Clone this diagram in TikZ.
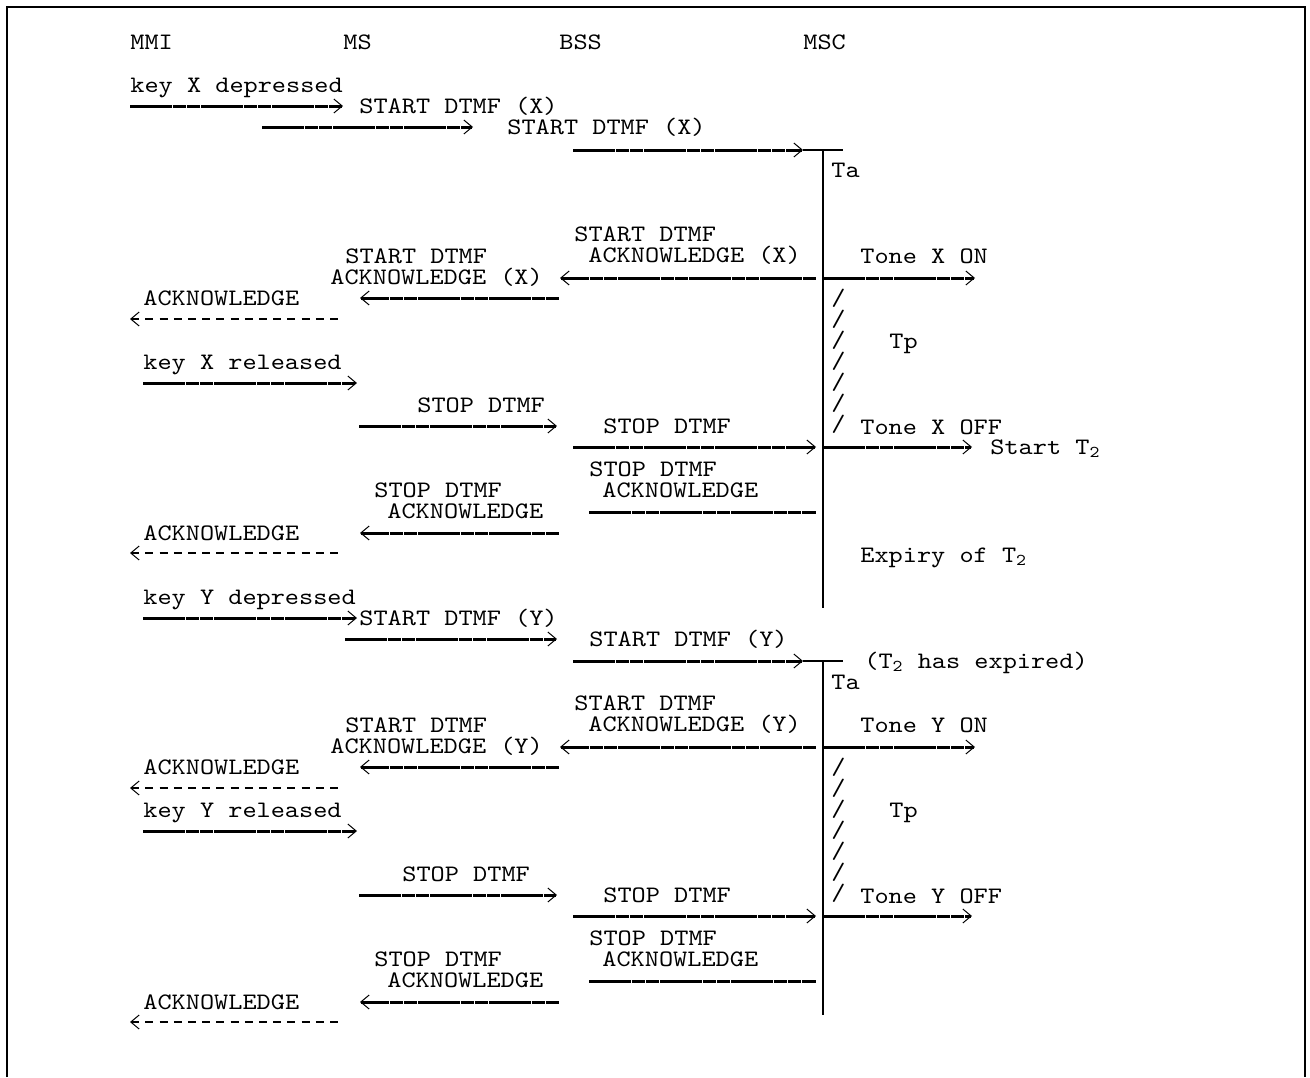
\documentclass[tikz,border=0pt]{standalone}
\usepackage{fontspec}
\newfontfamily\dtmffont{lmmono10-regular.otf}[FakeStretch=1.143]
\usepackage{tikz}
\usetikzlibrary{arrows.meta}
\tikzset{
  msgtxt/.style={font=\dtmffont\fontsize{11.8}{14}\selectfont, inner sep=0pt, anchor=base west},
  msgarr/.style={line width=1.5pt, dash pattern=on 6.75pt off 0.35pt, -{Straight Barb[length=4.2pt,width=7pt,line width=0.5pt]}},
  ackarr/.style={line width=1.5pt, dash pattern=on 6.75pt off 0.35pt, {Straight Barb[length=4.2pt,width=7pt,line width=0.5pt]}-},
  ackline/.style={line width=1.5pt, dash pattern=on 6.75pt off 0.35pt},
  mmiarr/.style={line width=0.6pt, dash pattern=on 4pt off 3.1pt, {Straight Barb[length=4.2pt,width=7pt,line width=0.5pt]}-},
  lifeline/.style={line width=0.6pt},
  frame/.style={line width=1.2pt}
}
\begin{document}
\begin{tikzpicture}[x=0.5pt, y=-0.5pt]
\useasboundingbox (0,0) rectangle (1310,1077);
\draw[frame] (7,1077) -- (7,7) -- (1305,7) -- (1305,1077);

% entities
\node[msgtxt] (mmi) at (130,49) {MMI};
\node[msgtxt] (ms)  at (343,49) {MS};
\node[msgtxt] (bss) at (559,49) {BSS};
\node[msgtxt] (msc) at (803,49) {MSC};

% ---- key X ----
\node[msgtxt] (keyxdn) at (130,92) {key X depressed};
\coordinate (a1s) at (130,106); \coordinate (a1e) at (343,106);
\draw[msgarr] (a1s) -- (a1e);
\node[msgtxt] (startxms) at (359,113) {START DTMF (X)};
\coordinate (a2s) at (262,127); \coordinate (a2e) at (473,127);
\draw[msgarr] (a2s) -- (a2e);
\node[msgtxt] (startxbss) at (507,134) {START DTMF (X)};
\coordinate (a3s) at (573,150); \coordinate (a3e) at (803,150);
\draw[msgarr] (a3s) -- (a3e);
\coordinate (tax) at (823,150); \coordinate (tbarx) at (843,150); \coordinate (lifexe) at (823,608);
\draw[lifeline] (a3e) -- (tbarx);
\draw[lifeline] (tax) -- (lifexe);
\node[msgtxt] (tax1) at (831,177) {Ta};

\node[msgtxt] (sackx1) at (574,241) {START DTMF};
\node[msgtxt] (sackx2) at (588,262) {ACKNOWLEDGE (X)};
\coordinate (b1s) at (816,278); \coordinate (b1e) at (560,278);
\draw[ackarr] (b1e) -- (b1s);
\coordinate (tonexon1) at (823,278); \coordinate (tonexon2) at (975,278);
\draw[msgarr] (tonexon1) -- (tonexon2);
\node[msgtxt] (tonexon) at (860,263) {Tone X ON};
\node[msgtxt] (sackxms1) at (345,263) {START DTMF};
\node[msgtxt] (sackxms2) at (330,284) {ACKNOWLEDGE (X)};
\coordinate (b3s) at (559,298); \coordinate (b3e) at (360,298);
\draw[ackarr] (b3e) -- (b3s);
\node[msgtxt] (ackx1) at (143,305) {ACKNOWLEDGE};
\coordinate (b4s) at (343,319); \coordinate (b4e) at (130,319);
\draw[mmiarr] (b4e) -- (b4s);

\node[msgtxt] (keyxup) at (143,369) {key X released};
\coordinate (c1s) at (143,383); \coordinate (c1e) at (357,383);
\draw[msgarr] (c1s) -- (c1e);
\node[msgtxt] (stopxms) at (417,412) {STOP DTMF};
\coordinate (c2s) at (359,426); \coordinate (c2e) at (557,426);
\draw[msgarr] (c2s) -- (c2e);
\node[msgtxt] (stopxbss) at (603,433) {STOP DTMF};
\coordinate (c3s) at (573,447); \coordinate (c3e) at (816,447);
\draw[msgarr] (c3s) -- (c3e);
\coordinate (tonexoff1) at (823,447); \coordinate (tonexoff2) at (972,447);
\draw[msgarr] (tonexoff1) -- (tonexoff2);
\node[msgtxt] (tonexoff) at (860,434) {Tone X OFF};
\node[msgtxt] (startt2) at (990,454) {Start T\textsubscript{2}};
\foreach \i in {0,...,6}
  \node[msgtxt] (slashx\i) at (831,305+21*\i) {/};
\node[msgtxt] (tpx) at (889,348) {Tp};

\node[msgtxt] (stackx1) at (589,476) {STOP DTMF};
\node[msgtxt] (stackx2) at (602,497) {ACKNOWLEDGE};
\coordinate (d1s) at (816,512); \coordinate (d1e) at (589,512);
\draw[ackline] (d1e) -- (d1s);
\node[msgtxt] (stackxms1) at (374,497) {STOP DTMF};
\node[msgtxt] (stackxms2) at (387,518) {ACKNOWLEDGE};
\coordinate (d2s) at (559,533); \coordinate (d2e) at (360,533);
\draw[ackarr] (d2e) -- (d2s);
\node[msgtxt] (ackx2) at (143,540) {ACKNOWLEDGE};
\coordinate (d3s) at (343,553); \coordinate (d3e) at (130,553);
\draw[mmiarr] (d3e) -- (d3s);
\node[msgtxt] (expiry) at (860,562) {Expiry of T\textsubscript{2}};

% ---- key Y ----
\node[msgtxt] (keyydn) at (143,604) {key Y depressed};
\coordinate (e1s) at (143,618); \coordinate (e1e) at (357,618);
\draw[msgarr] (e1s) -- (e1e);
\node[msgtxt] (startyms) at (359,625) {START DTMF (Y)};
\coordinate (e2s) at (345,639); \coordinate (e2e) at (557,639);
\draw[msgarr] (e2s) -- (e2e);
\node[msgtxt] (startybss) at (589,646) {START DTMF (Y)};
\coordinate (e3s) at (573,661); \coordinate (e3e) at (803,661);
\draw[msgarr] (e3s) -- (e3e);
\coordinate (tay) at (823,661); \coordinate (tbary) at (843,661); \coordinate (lifeye) at (823,1015);
\draw[lifeline] (e3e) -- (tbary);
\draw[lifeline] (tay) -- (lifeye);
\node[msgtxt] (expired) at (864,668) {(T\textsubscript{2} has expired)};
\node[msgtxt] (tay1) at (831,689) {Ta};

\node[msgtxt] (sacky1) at (574,710) {START DTMF};
\node[msgtxt] (sacky2) at (588,731) {ACKNOWLEDGE (Y)};
\coordinate (f1s) at (816,747); \coordinate (f1e) at (560,747);
\draw[ackarr] (f1e) -- (f1s);
\coordinate (toneyon1) at (823,747); \coordinate (toneyon2) at (975,747);
\draw[msgarr] (toneyon1) -- (toneyon2);
\node[msgtxt] (toneyon) at (860,732) {Tone Y ON};
\node[msgtxt] (sackyms1) at (345,732) {START DTMF};
\node[msgtxt] (sackyms2) at (330,753) {ACKNOWLEDGE (Y)};
\coordinate (f2s) at (559,767); \coordinate (f2e) at (360,767);
\draw[ackarr] (f2e) -- (f2s);
\node[msgtxt] (acky1) at (143,774) {ACKNOWLEDGE};
\coordinate (f3s) at (343,788); \coordinate (f3e) at (130,788);
\draw[mmiarr] (f3e) -- (f3s);

\node[msgtxt] (keyyup) at (143,817) {key Y released};
\coordinate (g1s) at (143,831); \coordinate (g1e) at (357,831);
\draw[msgarr] (g1s) -- (g1e);
\node[msgtxt] (stopyms) at (402,881) {STOP DTMF};
\coordinate (g2s) at (359,895); \coordinate (g2e) at (557,895);
\draw[msgarr] (g2s) -- (g2e);
\node[msgtxt] (stopybss) at (603,902) {STOP DTMF};
\coordinate (g3s) at (573,916); \coordinate (g3e) at (816,916);
\draw[msgarr] (g3s) -- (g3e);
\coordinate (toneyoff1) at (823,916); \coordinate (toneyoff2) at (972,916);
\draw[msgarr] (toneyoff1) -- (toneyoff2);
\node[msgtxt] (toneyoff) at (860,903) {Tone Y OFF};
\foreach \i in {0,...,6}
  \node[msgtxt] (slashy\i) at (831,774+21*\i) {/};
\node[msgtxt] (tpy) at (889,817) {Tp};

\node[msgtxt] (stacky1) at (589,945) {STOP DTMF};
\node[msgtxt] (stacky2) at (602,966) {ACKNOWLEDGE};
\coordinate (h1s) at (816,981); \coordinate (h1e) at (589,981);
\draw[ackline] (h1e) -- (h1s);
\node[msgtxt] (stackyms1) at (374,966) {STOP DTMF};
\node[msgtxt] (stackyms2) at (387,987) {ACKNOWLEDGE};
\coordinate (h2s) at (559,1002); \coordinate (h2e) at (360,1002);
\draw[ackarr] (h2e) -- (h2s);
\node[msgtxt] (acky2) at (143,1009) {ACKNOWLEDGE};
\coordinate (h3s) at (343,1022); \coordinate (h3e) at (130,1022);
\draw[mmiarr] (h3e) -- (h3s);
\end{tikzpicture}
\end{document}
